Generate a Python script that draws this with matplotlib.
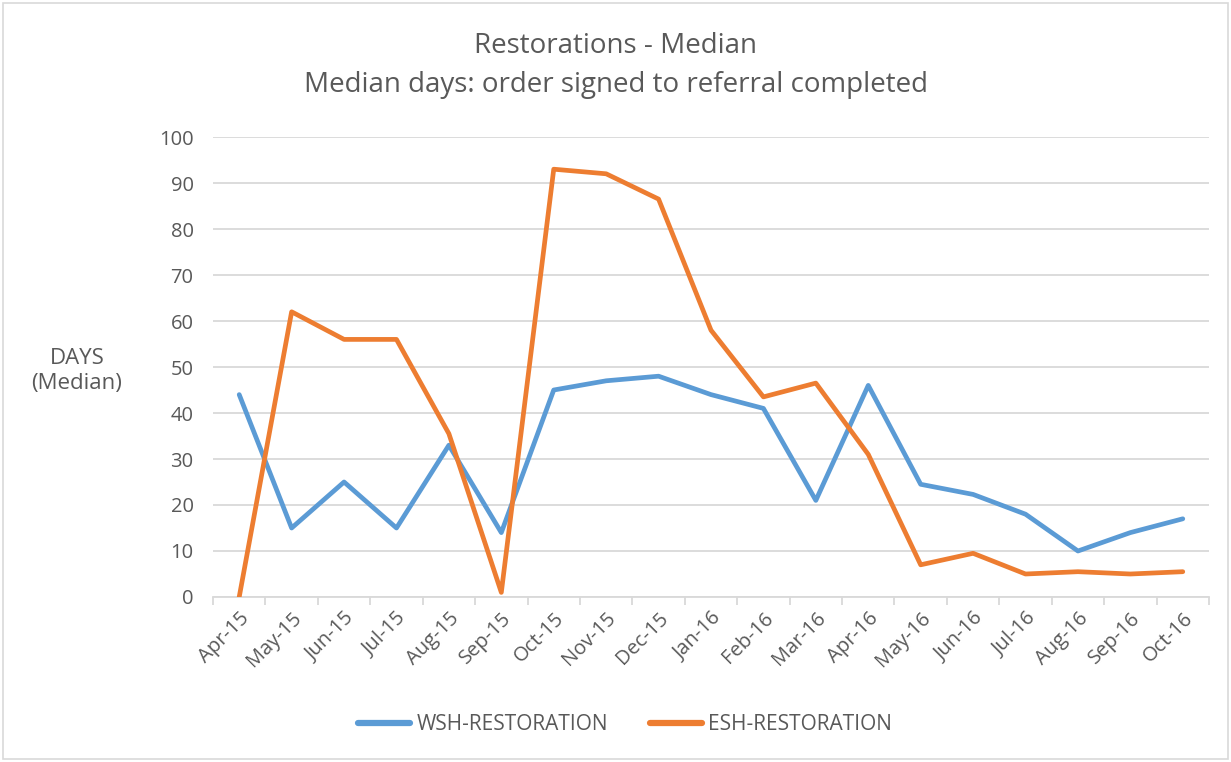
import matplotlib
matplotlib.use("Agg")
import matplotlib.pyplot as plt
from matplotlib.patches import Rectangle

months = ["Apr-15", "May-15", "Jun-15", "Jul-15", "Aug-15", "Sep-15", "Oct-15",
          "Nov-15", "Dec-15", "Jan-16", "Feb-16", "Mar-16", "Apr-16", "May-16",
          "Jun-16", "Jul-16", "Aug-16", "Sep-16", "Oct-16"]
wsh = [44, 15, 25, 15, 33, 14, 45, 47, 48, 44, 41, 21, 46, 24.5, 22.3, 18, 10, 14, 17]
esh = [0, 62, 56, 56, 35.5, 1, 93, 92, 86.5, 58, 43.5, 46.5, 31, 7, 9.5, 5, 5.5, 5, 5.5]
yticks = [0, 10, 20, 30, 40, 50, 60, 70, 80, 90, 100]

plt.rcParams['font.family'] = ['Open Sans', 'DejaVu Sans']
txt = '#595959'
grid = '#d9d9d9'

W, H = 1231, 762
fig = plt.figure(figsize=(W / 100, H / 100), dpi=100)
fig.patches.append(Rectangle((3 / W, 3 / H), (W - 6) / W, (H - 6) / H, transform=fig.transFigure,
                             fill=False, edgecolor='#d9d9d9', linewidth=1.2))

ax = fig.add_axes([213 / W, 1 - 597 / H, (1209 - 213) / W, (597 - 137) / H])
x = list(range(len(months)))
l1, = ax.plot(x, wsh, color='#5b9bd5', lw=3.4, solid_joinstyle='round', solid_capstyle='round',
              label='WSH-RESTORATION', zorder=3)
l2, = ax.plot(x, esh, color='#ed7d31', lw=3.4, solid_joinstyle='round', solid_capstyle='round',
              label='ESH-RESTORATION', zorder=3)

ax.set_xlim(-0.5, len(months) - 0.5)
ax.set_ylim(0, 100)
ax.set_yticks(yticks)
ax.set_yticklabels([str(v) for v in yticks], fontsize=14.5, color=txt)
ax.yaxis.grid(True, color=grid, lw=1.3)
ax.set_axisbelow(True)
ax.tick_params(axis='y', length=0, pad=14)

ax.set_xticks(x)
ax.set_xticklabels(months, rotation=45, ha='right', rotation_mode='anchor', fontsize=14.5, color=txt)
ax.tick_params(axis='x', which='major', length=0, pad=8)
ax.set_xticks([i - 0.5 for i in range(len(months) + 1)], minor=True)
ax.tick_params(axis='x', which='minor', length=6, color=grid, width=1.3)

for s in ['top', 'right', 'left']:
    ax.spines[s].set_visible(False)
ax.spines['bottom'].set_color(grid)
ax.spines['bottom'].set_linewidth(1.3)

fig.text(0.5, 1 - 46 / H, "Restorations - Median", ha='center', va='center', fontsize=20, color=txt)
fig.text(0.5, 1 - 85 / H, "Median days: order signed to referral completed", ha='center', va='center',
         fontsize=20, color=txt)
fig.text(77 / W, 1 - 371 / H, "DAYS\n(Median)", ha='center', va='center', fontsize=16, color=txt,
         linespacing=1.3)

leg = fig.legend(handles=[l1, l2], loc='center', bbox_to_anchor=(625 / W, 1 - 725 / H), ncol=2,
                 frameon=False, fontsize=15, labelcolor=txt, handlelength=2.5, columnspacing=2.0,
                 handletextpad=0.3)
for h in leg.legend_handles:
    h.set_linewidth(4.5)

fig.savefig("out.png", dpi=100)
